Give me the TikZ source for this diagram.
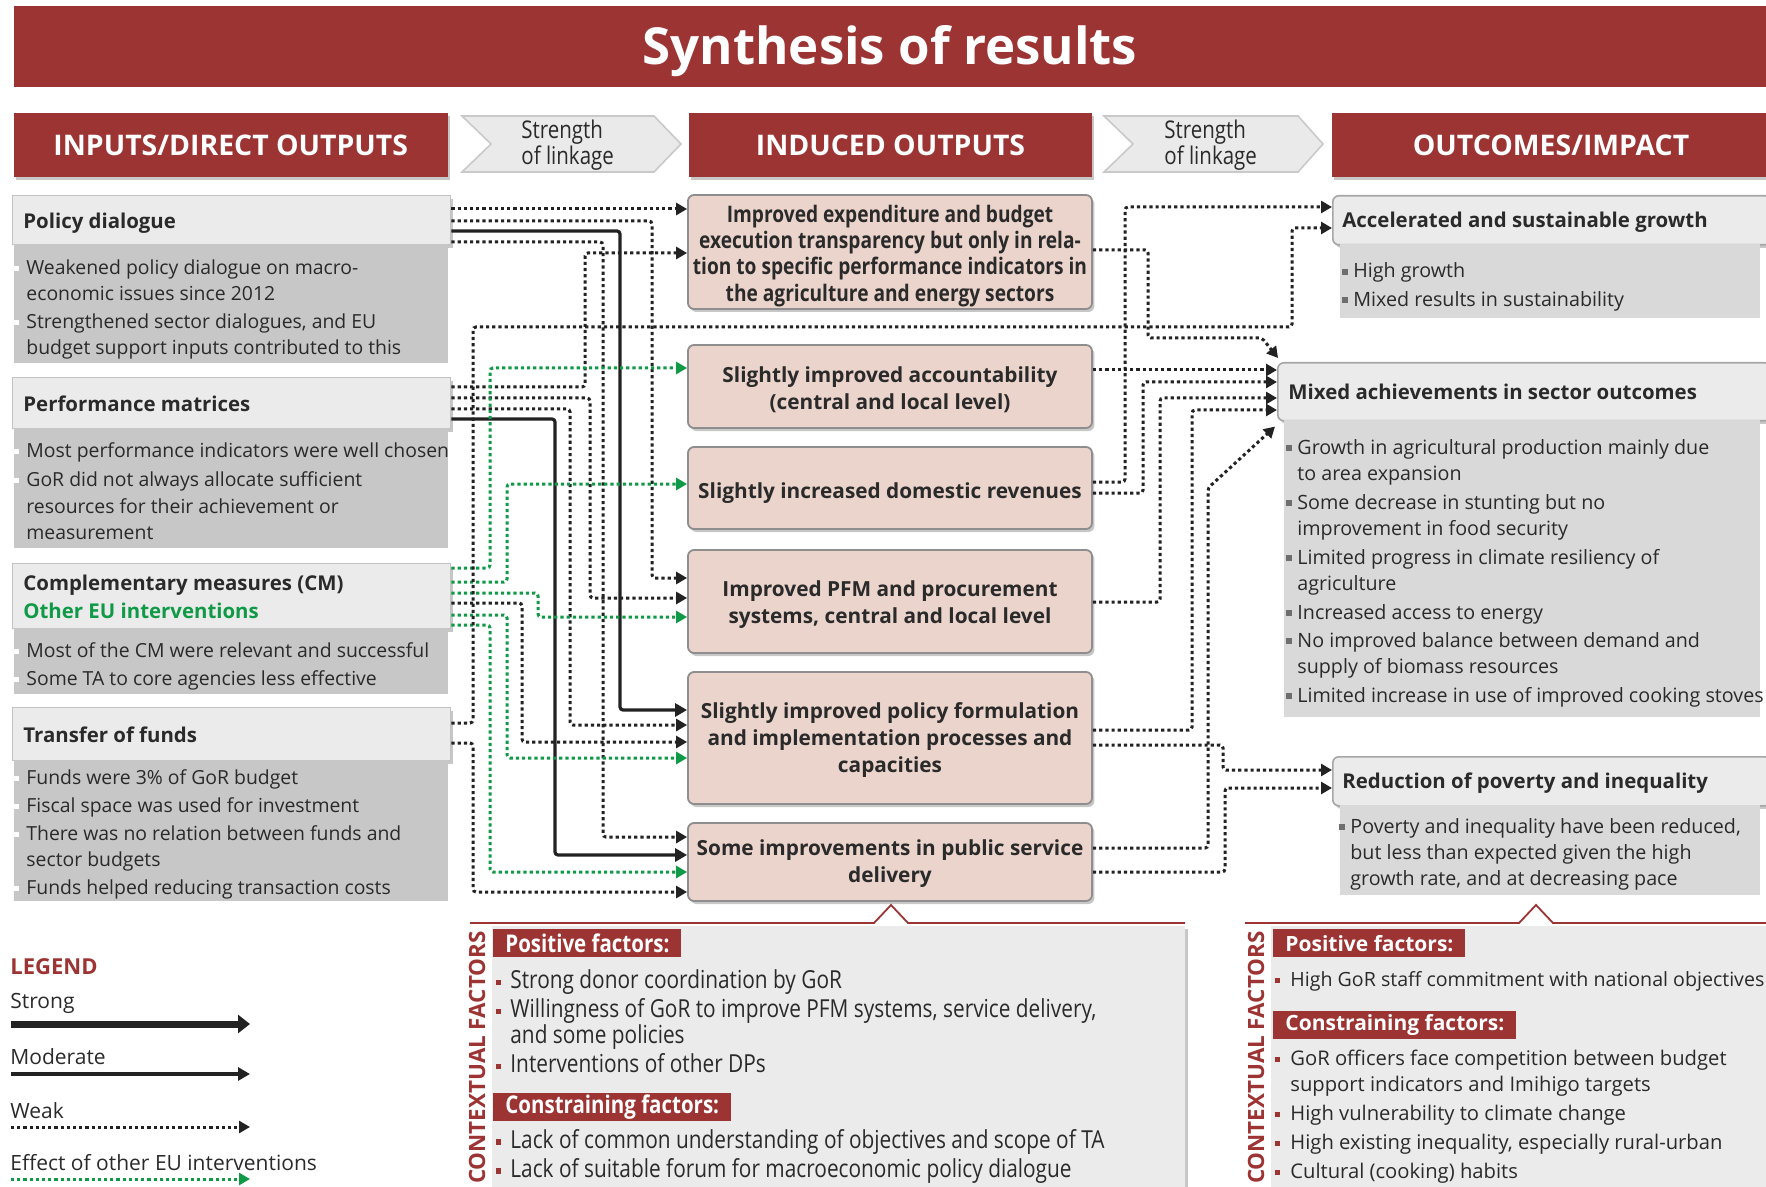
\documentclass[tikz,border=0pt]{standalone}
\usepackage{fontspec}
\setmainfont{Open Sans}
\newfontfamily\condfont[FakeStretch=0.84]{Open Sans}
\usetikzlibrary{arrows.meta,shadows,calc}
\definecolor{bred}{HTML}{9D3434}
\definecolor{txt}{HTML}{2A2A2A}
\definecolor{headgray}{HTML}{EBEBEB}
\definecolor{headline}{HTML}{C2C2C2}
\definecolor{bodygray}{HTML}{C7C7C7}
\definecolor{obodygray}{HTML}{D9D9D9}
\definecolor{pinkbox}{HTML}{EBD4CC}
\definecolor{pinkline}{HTML}{8E8E8E}
\definecolor{oline}{HTML}{A6A6A6}
\definecolor{panelgray}{HTML}{EBEBEB}
\definecolor{chevgray}{HTML}{EAEAEA}
\definecolor{chevline}{HTML}{C9C9C9}
\definecolor{lnk}{HTML}{222222}
\definecolor{eugreen}{HTML}{109A47}
\definecolor{bulgray}{HTML}{6E6E6E}
\newcommand\hbul[3][2.6pt]{\makebox[0pt][r]{\textcolor{#2}{\rule[1.7pt]{#1}{#1}}\hspace{#3}}}
\tikzset{
  shad/.style={drop shadow={shadow xshift=1.2pt, shadow yshift=-1.5pt, opacity=0.22, fill=black}},
  strut/.style={execute at begin node=\strut, execute at end node=\strut},
  titlebar/.style={fill=bred, inner sep=0pt},
  titletext/.style={text=white, inner sep=0pt, font=\fontsize{25.5}{28}\selectfont\bfseries},
  colhead/.style={fill=bred, text=white, inner sep=0pt, minimum height=32pt, shad, font=\fontsize{14.2}{16}\selectfont\bfseries},
  chev/.style={fill=chevgray, draw=chevline, line width=0.8pt},
  chevtext/.style={anchor=west, align=left, inner sep=0pt, text=txt, font=\condfont\fontsize{12.2}{11.8}\selectfont},
  lhead/.style={anchor=north west, fill=headgray, draw=headline, line width=0.7pt, inner sep=0pt, shad},
  lbody/.style={anchor=north west, fill=bodygray, inner sep=0pt},
  htext/.style={anchor=west, align=left, inner sep=0pt, text=txt, strut, font=\fontsize{10.2}{14}\selectfont\bfseries},
  btext/.style={anchor=west, align=left, inner sep=0pt, text=txt, strut, font=\fontsize{9.7}{13.25}\selectfont},
  otext/.style={btext, font=\fontsize{9.85}{13.1}\selectfont},
  ibox/.style={fill=pinkbox, draw=pinkline, line width=0.9pt, rounded corners=3pt, inner sep=0pt, shad, minimum width=202pt},
  itext/.style={align=center, inner sep=0pt, text=txt, strut, font=\fontsize{10.4}{13.4}\selectfont\bfseries},
  ohead/.style={anchor=north west, fill=headgray, draw=oline, line width=0.8pt, rounded corners=3pt, inner sep=0pt, shad},
  obody/.style={anchor=north west, fill=obodygray, inner sep=0pt},
  panel/.style={anchor=north west, fill=panelgray, inner sep=0pt, shad},
  tag/.style={anchor=north west, fill=bred, text=white, inner xsep=6pt, inner ysep=0pt, minimum height=14pt, font=\condfont\fontsize{12.2}{12}\selectfont\bfseries},
  tagb/.style={tag, font=\fontsize{10.5}{12}\selectfont\bfseries},
  ctext/.style={anchor=west, align=left, inner sep=0pt, text=txt, strut, font=\condfont\fontsize{12.4}{13}\selectfont},
  ctextb/.style={btext, font=\fontsize{10.1}{13}\selectfont},
  vlabel/.style={rotate=90, anchor=east, inner sep=0pt, text=bred, font=\fontsize{11.2}{12}\selectfont\bfseries},
  ltext/.style={anchor=west, inner sep=0pt, text=txt, font=\fontsize{10.5}{12}\selectfont},
  link/.style={draw=lnk, line width=1.5pt, rounded corners=1.5pt},
  weak/.style={link, dash pattern=on 1.6pt off 1.5pt, -{Triangle[length=5.5pt,width=6pt]}},
  moderate/.style={link, line width=1.6pt, -{Triangle[length=6pt,width=6.5pt]}},
  strong/.style={link, line width=3.5pt, -{Triangle[length=6pt,width=9pt]}},
  other/.style={weak, draw=eugreen},
}
\begin{document}
\begin{tikzpicture}[x=0.5pt,y=-0.5pt]
  \useasboundingbox (0,0) rectangle (1766,1187);
  % title and column headers
  \node[titlebar, minimum width=876.25pt, minimum height=40.5pt] (title) at (890,46.5) {};
  \node[titletext] (titlet) at (890,51) {Synthesis of results\vphantom{S}};
  \node[colhead, minimum width=217.25pt] (hin) at (230.75,145) {INPUTS/DIRECT OUTPUTS};
  \node[colhead, minimum width=201.5pt] (hind) at (890.5,145) {INDUCED OUTPUTS};
  \node[colhead, minimum width=219pt] (hout) at (1551,145) {OUTCOMES/IMPACT};
  \draw[chev] (462,116) -- (654,116) -- (681,144) -- (654,172) -- (462,172) -- (491,144) -- cycle;
  \node[chevtext] (lka) at (521,145) {Strength\\of linkage};
  \draw[chev] (1104,116) -- (1298,116) -- (1323,144) -- (1298,172) -- (1104,172) -- (1133,144) -- cycle;
  \node[chevtext] (lkb) at (1164,145) {Strength\\of linkage};

  % inputs / direct outputs
  \node[lhead, minimum width=219pt, minimum height=24.5pt] (pdh) at (12,195) {};
  \node[htext] (pdt) at (23,222.5) {Policy dialogue};
  \node[lbody, minimum width=217.25pt, minimum height=59.5pt] (pdb) at (13.5,244) {};
  \node[btext] (pdl) at (26,311) {\hbul{white}{3.5pt}Weakened policy dialogue on macro-\\economic issues since 2012\\[0.5pt]\hbul{white}{3.5pt}Strengthened sector dialogues, and EU\\budget support inputs contributed to this};
  \node[lhead, minimum width=219pt, minimum height=25.5pt] (pmh) at (12,377) {};
  \node[htext] (pmt) at (23,405.5) {Performance matrices};
  \node[lbody, minimum width=217.25pt, minimum height=60pt] (pmb) at (13.5,428) {};
  \node[btext] (pml) at (26,495) {\hbul{white}{3.5pt}Most performance indicators were well chosen\\[1.5pt]\hbul{white}{3.5pt}GoR did not always allocate sufficient\\resources for their achievement or\\measurement};
  \node[lhead, minimum width=219pt, minimum height=32.5pt] (cmh) at (12,563) {};
  \node[htext] (cmt) at (23,600.5) {Complementary measures (CM)\\\textcolor{eugreen}{Other EU interventions}};
  \node[lbody, minimum width=217.25pt, minimum height=33pt] (cmb) at (13.5,628) {};
  \node[btext] (cml) at (26,668) {\hbul{white}{3.5pt}Most of the CM were relevant and successful\\[1pt]\hbul{white}{3.5pt}Some TA to core agencies less effective};
  \node[lhead, minimum width=219pt, minimum height=26.5pt] (tfh) at (12,707) {};
  \node[htext] (tft) at (23,736.5) {Transfer of funds};
  \node[lbody, minimum width=217.25pt, minimum height=70.5pt] (tfb) at (13.5,760) {};
  \node[btext, font=\fontsize{9.7}{13}\selectfont] (tfl) at (26,836) {\hbul{white}{3.5pt}Funds were 3\% of GoR budget\\[1pt]\hbul{white}{3.5pt}Fiscal space was used for investment\\[1pt]\hbul{white}{3.5pt}There was no relation between funds and\\sector budgets\\[1pt]\hbul{white}{3.5pt}Funds helped reducing transaction costs};

  % induced outputs
  \node[ibox, minimum height=57pt] (exp) at (890,252) {};
  \node[itext, font=\condfont\fontsize{11.4}{13.1}\selectfont\bfseries] (expt) at (890,257) {Improved expenditure and budget\\execution transparency but only in rela-\\tion to specific performance indicators in\\the agriculture and energy sectors};
  \node[ibox, minimum height=41.5pt] (acc) at (890,386.5) {};
  \node[itext] (acct) at (890,392) {Slightly improved accountability\\(central and local level)};
  \node[ibox, minimum height=41pt] (rev) at (890,488) {};
  \node[itext] (revt) at (890,493.5) {Slightly increased domestic revenues};
  \node[ibox, minimum height=51.5pt] (pfm) at (890,601.5) {};
  \node[itext] (pfmt) at (890,606.5) {Improved PFM and procurement\\systems, central and local level};
  \node[ibox, minimum height=66pt] (pol) at (890,738) {};
  \node[itext] (polt) at (890,741.5) {Slightly improved policy formulation\\and implementation processes and\\capacities};
  \node[ibox, minimum height=39pt] (svc) at (890,862) {};
  \node[itext] (svct) at (890,865.5) {Some improvements in public service\\delivery};

  % outcomes / impact
  \node[ohead, minimum width=219pt, minimum height=24.5pt] (grw) at (1332,195) {};
  \node[htext] (grwt) at (1342,222) {Accelerated and sustainable growth};
  \node[obody, minimum width=210pt, minimum height=37pt] (grwb) at (1340,244) {};
  \node[otext] (grwl) at (1353,288.5) {\hbul[3pt]{bulgray}{2.5pt}High growth\\[1pt]\hbul[3pt]{bulgray}{2.5pt}Mixed results in sustainability};
  \node[ohead, minimum width=246.5pt, minimum height=29pt] (sec) at (1277,362) {};
  \node[htext] (sect) at (1288,393.5) {Mixed achievements in sector outcomes};
  \node[obody, minimum width=238pt, minimum height=148.5pt] (secb) at (1284,420) {};
  \node[otext] (secl) at (1297,575) {\hbul[3pt]{bulgray}{2.5pt}Growth in agricultural production mainly due\\to area expansion\\[1.2pt]\hbul[3pt]{bulgray}{2.5pt}Some decrease in stunting but no\\improvement in food security\\[1.2pt]\hbul[3pt]{bulgray}{2.5pt}Limited progress in climate resiliency of\\agriculture\\[1.2pt]\hbul[3pt]{bulgray}{2.5pt}Increased access to energy\\[1.2pt]\hbul[3pt]{bulgray}{2.5pt}No improved balance between demand and\\supply of biomass resources\\[1.2pt]\hbul[3pt]{bulgray}{2.5pt}Limited increase in use of improved cooking stoves};
  \node[ohead, minimum width=219pt, minimum height=24.5pt] (pov) at (1332,756) {};
  \node[htext] (povt) at (1342,783) {Reduction of poverty and inequality};
  \node[obody, minimum width=210pt, minimum height=45pt] (povb) at (1340,805) {};
  \node[otext] (povl) at (1350,856) {\hbul[3pt]{bulgray}{2.5pt}Poverty and inequality have been reduced,\\but less than expected given the high\\growth rate, and at decreasing pace};

  % contextual factors
  \node[panel, minimum width=346.5pt, minimum height=132pt] (cfa) at (492,926) {};
  \node[panel, minimum width=250pt, minimum height=132pt] (cfb) at (1271,926) {};
  \draw[bred, line width=0.9pt] (470,923) -- (874,923) -- (891,905) -- (908,923) -- (1185,923);
  \draw[bred, line width=0.9pt] (1245,923) -- (1519,923) -- (1536,905) -- (1553,923) -- (1766,923);
  \node[vlabel] (cfav) at (477,931) {CONTEXTUAL FACTORS};
  \node[vlabel] (cfbv) at (1256,931) {CONTEXTUAL FACTORS};
  \node[tag] (cfapos) at (493,929) {Positive factors:};
  \node[ctext] (cfapl) at (510,1025) {\hbul{bred}{4.5pt}Strong donor coordination by GoR\\[1.5pt]\hbul{bred}{4.5pt}Willingness of GoR to improve PFM systems, service delivery,\\and some policies\\[1.5pt]\hbul{bred}{4.5pt}Interventions of other DPs};
  \node[tag] (cfacon) at (493,1093) {Constraining factors:};
  \node[ctext] (cfacl) at (510,1157) {\hbul{bred}{4.5pt}Lack of common understanding of objectives and scope of TA\\[1.5pt]\hbul{bred}{4.5pt}Lack of suitable forum for macroeconomic policy dialogue};
  \node[tagb] (cfbpos) at (1273,929) {Positive factors:};
  \node[ctextb, font=\fontsize{9.8}{13}\selectfont] (cfbpl) at (1290,981.5) {\hbul{bred}{5pt}High GoR staff commitment with national objectives};
  \node[tagb] (cfbcon) at (1273,1011) {Constraining factors:};
  \node[ctextb] (cfbcl) at (1290,1118.5) {\hbul{bred}{5pt}GoR officers face competition between budget\\support indicators and Imihigo targets\\[1.5pt]\hbul{bred}{5pt}High vulnerability to climate change\\[1.5pt]\hbul{bred}{5pt}High existing inequality, especially rural-urban\\[1.5pt]\hbul{bred}{5pt}Cultural (cooking) habits};

  % legend
  \node[ltext, text=bred, font=\fontsize{11}{12}\selectfont\bfseries] (leg) at (10,967) {LEGEND};
  \node[ltext] (lgs) at (10,1003) {Strong};
  \node[ltext] (lgm) at (10,1057) {Moderate};
  \node[ltext] (lgw) at (10,1111) {Weak};
  \node[ltext] (lge) at (10,1163) {Effect of other EU interventions};
  \coordinate (s0) at (11,1024); \coordinate (s1) at (250,1024);
  \coordinate (m0) at (11,1074); \coordinate (m1) at (250,1074);
  \coordinate (w0) at (11,1127); \coordinate (w1) at (250,1127);
  \coordinate (e0) at (11,1179); \coordinate (e1) at (250,1179);
  \draw[strong] (s0) -- (s1);
  \draw[moderate] (m0) -- (m1);
  \draw[weak] (w0) -- (w1);
  \draw[other] (e0) -- (e1);

  % inputs -> induced outputs
  \draw[weak] (pdh.east |- 0,209) -- (exp.west |- 0,209);
  \draw[weak] (pdh.east |- 0,221) -| (652,578) -- (pfm.west |- 0,578);
  \draw[moderate] (pdh.east |- 0,231) -| (620,710) -- (pol.west |- 0,710);
  \draw[weak] (pdh.east |- 0,242) -| (603,837) -- (svc.west |- 0,837);
  \draw[weak] (pmh.east |- 0,387) -| (585,253) -- (exp.west |- 0,253);
  \draw[weak] (pmh.east |- 0,398) -| (590,598) -- (pfm.west |- 0,598);
  \draw[weak] (pmh.east |- 0,409) -| (570,725) -- (pol.west |- 0,725);
  \draw[moderate] (pmh.east |- 0,419) -| (555,855) -- (svc.west |- 0,855);
  \draw[other] (cmh.east |- 0,568) -| (490,368) -- (acc.west |- 0,368);
  \draw[other] (cmh.east |- 0,582) -| (507,484) -- (rev.west |- 0,484);
  \draw[other] (cmh.east |- 0,593) -| (538,617) -- (pfm.west |- 0,617);
  \draw[weak] (cmh.east |- 0,603) -| (522,742) -- (pol.west |- 0,742);
  \draw[other] (cmh.east |- 0,615) -| (507,758) -- (pol.west |- 0,758);
  \draw[other] (cmh.east |- 0,625) -| (490,872) -- (svc.west |- 0,872);
  \draw[weak] (tfh.east |- 0,743) -| (473,892) -- (svc.west |- 0,892);
  \draw[weak] (tfh.east |- 0,723) -| (473,327) -| (1292,228) -- (grw.west |- 0,228);

  % induced outputs -> outcomes
  \draw[weak] (exp.east |- 0,250) -| (1148,338) -- (1262,338) -- ([xshift=0.5pt,yshift=2pt]sec.north west);
  \draw[weak] (acc.east |- 0,370) -- (sec.west |- 0,370);
  \draw[weak] (rev.east |- 0,482) -| (1125,207) -- (grw.west |- 0,207);
  \draw[weak] (rev.east |- 0,493) -| (1143,382) -- (sec.west |- 0,382);
  \draw[weak] (pfm.east |- 0,602) -| (1160,398) -- (sec.west |- 0,398);
  \draw[weak] (pol.east |- 0,730) -| (1192,410) -- (sec.west |- 0,410);
  \draw[weak] (svc.east |- 0,848) -| (1208,488) -- ([xshift=-1pt,yshift=-2.5pt]sec.south west);
  \draw[weak] (pol.east |- 0,745) -| (1223,770) -- (pov.west |- 0,770);
  \draw[weak] (svc.east |- 0,872) -| (1225,788) -- (pov.west |- 0,788);
\end{tikzpicture}
\end{document}
